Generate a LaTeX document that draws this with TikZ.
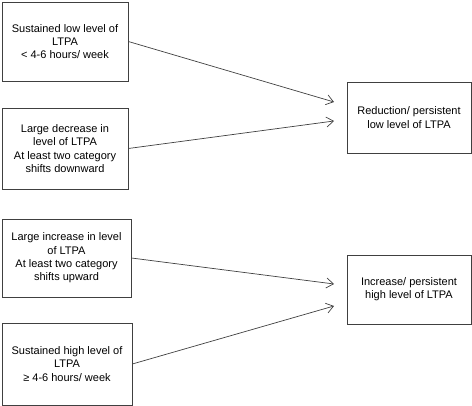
\documentclass[tikz,border=0pt]{standalone}
\usepackage{fontspec}
\setmainfont{Liberation Sans}
\usetikzlibrary{arrows.meta}
\begin{document}
\begin{tikzpicture}[x=1pt,y=1pt,
  box/.style={draw=black!75,line width=0.7pt,align=center,inner sep=2pt,
    font=\fontsize{11}{13.3}\selectfont},
  conn/.style={draw=black!75,line width=0.7pt,-{Straight Barb[length=7pt,width=10pt,line width=0.7pt]}}]
\useasboundingbox (0,0) rectangle (472,406);
\node[box,minimum width=126pt,minimum height=79pt] (b1) at (65,364.5) {Sustained low level of\\LTPA\\< 4-6 hours/ week};
\node[box,minimum width=126pt,minimum height=81pt] (b2) at (65,257.5) {Large decrease in\\level of LTPA\\At least two category\\shifts downward};
\node[box,minimum width=129pt,minimum height=78pt] (b3) at (66.5,148) {Large increase in level\\of LTPA\\At least two category\\shifts upward};
\node[box,minimum width=130pt,minimum height=82pt] (b4) at (67,42) {Sustained high level of\\LTPA\\≥ 4-6 hours/ week};
\node[box,minimum width=124pt,minimum height=71pt] (r1) at (409,288.5) {Reduction/ persistent\\low level of LTPA};
\node[box,minimum width=124pt,minimum height=69pt] (r2) at (409,116.5) {Increase/ persistent\\high level of LTPA};
\coordinate (t1) at (334,304);
\coordinate (t2) at (334,285);
\coordinate (t3) at (334,122);
\coordinate (t4) at (334,100);
\draw[conn] (b1.east) -- (t1);
\draw[conn] (b2.east) -- (t2);
\draw[conn] (b3.east) -- (t3);
\draw[conn] (b4.east) -- (t4);
\end{tikzpicture}
\end{document}
